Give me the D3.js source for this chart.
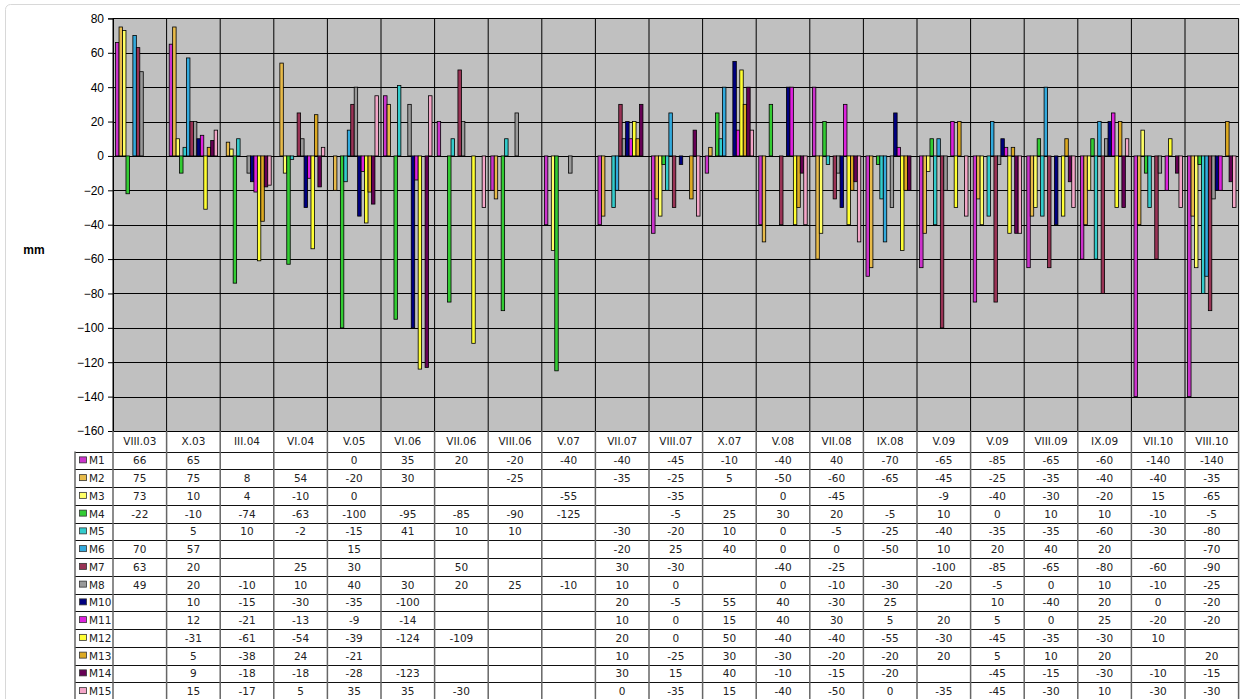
<!DOCTYPE html>
<html>
<head>
<meta charset="utf-8">
<script src="https://cdn.jsdelivr.net/npm/d3@7/dist/d3.min.js"></script>
<style>
  html, body { margin: 0; padding: 0; background: #fff; }
  svg { display: block; }
</style>
</head>
<body>
<svg id="chart" width="1240" height="699"></svg>
<script>
const categories = ["VIII.03","X.03","III.04","VI.04","V.05","VI.06","VII.06","VIII.06","V.07","VII.07","VIII.07","X.07","V.08","VII.08","IX.08","V.09","V.09","VIII.09","IX.09","VII.10","VIII.10"];
const seriesNames = ["M1","M2","M3","M4","M5","M6","M7","M8","M10","M11","M12","M13","M14","M15"];
const seriesColors = ["#CC33CC","#E8BB4A","#FFFF66","#33CC33","#33CCCC","#33AADD","#993355","#999999","#000080","#DD22DD","#FFFF33","#DDAA22","#660055","#F4A6C8"];
const _ = null;
const M1  = [66, 65, _, _, 0, 35, 20, -20, -40, -40, -45, -10, -40, 40, -70, -65, -85, -65, -60, -140, -140];
const M2  = [75, 75, 8, 54, -20, 30, _, -25, _, -35, -25, 5, -50, -60, -65, -45, -25, -35, -40, -40, -35];
const M3  = [73, 10, 4, -10, 0, _, _, _, -55, _, -35, _, 0, -45, _, -9, -40, -30, -20, 15, -65];
const M4  = [-22, -10, -74, -63, -100, -95, -85, -90, -125, _, -5, 25, 30, 20, -5, 10, 0, 10, 10, -10, -5];
const M5  = [_, 5, 10, -2, -15, 41, 10, 10, _, -30, -20, 10, 0, -5, -25, -40, -35, -35, -60, -30, -80];
const M6  = [70, 57, _, _, 15, _, _, _, _, -20, 25, 40, 0, 0, -50, 10, 20, 40, 20, _, -70];
const M7  = [63, 20, _, 25, 30, _, 50, _, _, 30, -30, _, -40, -25, _, -100, -85, -65, -80, -60, -90];
const M8  = [49, 20, -10, 10, 40, 30, 20, 25, -10, 10, 0, _, 0, -10, -30, -20, -5, 0, 10, -10, -25];
const M10 = [_, 10, -15, -30, -35, -100, _, _, _, 20, -5, 55, 40, -30, 25, _, 10, -40, 20, 0, -20];
const M11 = [_, 12, -21, -13, -9, -14, _, _, _, 10, 0, 15, 40, 30, 5, 20, 5, 0, 25, -20, -20];
const M12 = [_, -31, -61, -54, -39, -124, -109, _, _, 20, 0, 50, -40, -40, -55, -30, -45, -35, -30, 10, _];
const M13 = [_, 5, -38, 24, -21, _, _, _, _, 10, -25, 30, -30, -20, -20, 20, 5, 10, 20, _, 20];
const M14 = [_, 9, -18, -18, -28, -123, _, _, _, 30, 15, 40, -10, -15, -20, _, -45, -15, -30, -10, -15];
const M15 = [_, 15, -17, 5, 35, 35, -30, _, _, 0, -35, 15, -40, -50, 0, -35, -45, -30, 10, -30, -30];
const seriesValues = [M1, M2, M3, M4, M5, M6, M7, M8, M10, M11, M12, M13, M14, M15];
const yTicks = [80, 60, 40, 20, 0, -20, -40, -60, -80, -100, -120, -140, -160];
const yLabel = "mm";

const svg = d3.select("#chart");
const L = 113, R = 1238.6, T = 18.4, B = 431;
const headerH = 20.5, rowH = 17.75;

// outer frame
svg.append("rect").attr("x", 5.5).attr("y", 4.5).attr("width", 1240).attr("height", 700)
  .attr("rx", 5).attr("fill", "#fff").attr("stroke", "#d8d8d8");

const x0 = d3.scaleBand().domain(d3.range(categories.length)).range([L, R]).padding(0);
const x1 = d3.scaleBand().domain(d3.range(seriesNames.length)).range([0, x0.bandwidth()])
  .paddingInner(0).paddingOuter(0.75);
const y = d3.scaleLinear().domain([-160, 80]).range([B, T]);

// plot background
svg.append("rect").attr("x", L).attr("y", T).attr("width", R - L).attr("height", B - T).attr("fill", "#C0C0C0");

// horizontal gridlines
svg.append("g").selectAll("line").data(yTicks).join("line")
  .attr("x1", L).attr("x2", R).attr("y1", d => Math.round(y(d)) + 0.5).attr("y2", d => Math.round(y(d)) + 0.5)
  .attr("stroke", "#000").attr("stroke-width", 1);

// vertical category lines
svg.append("g").selectAll("line").data(d3.range(categories.length + 1)).join("line")
  .attr("x1", i => i < categories.length ? x0(i) : R).attr("x2", i => i < categories.length ? x0(i) : R)
  .attr("y1", T).attr("y2", B).attr("stroke", "#000").attr("stroke-width", 1);

// bars
const barData = [];
seriesValues.forEach((vals, s) => vals.forEach((v, c) => { if (v !== null) barData.push({ s, c, v }); }));
svg.append("g").selectAll("rect").data(barData).join("rect")
  .attr("x", d => x0(d.c) + x1(d.s))
  .attr("width", x1.bandwidth())
  .attr("y", d => y(Math.max(0, d.v)))
  .attr("height", d => Math.abs(y(d.v) - y(0)))
  .attr("fill", d => seriesColors[d.s])
  .attr("stroke", "#000").attr("stroke-width", 0.8);

// y axis
const yAxis = d3.axisLeft(y).tickValues(yTicks).tickSize(5).tickPadding(4).tickFormat(d3.format("d"));
const ga = svg.append("g").attr("transform", `translate(${L},0)`).call(yAxis);
ga.select(".domain").attr("stroke", "#000");
ga.selectAll("line").attr("stroke", "#000");
ga.selectAll("text").attr("font-family", "Liberation Sans, Arial, sans-serif").attr("font-size", 12).attr("fill", "#000");

svg.append("text").attr("x", 34).attr("y", 254).attr("text-anchor", "middle")
  .attr("font-family", "Liberation Sans, Arial, sans-serif").attr("font-size", 12).attr("font-weight", "bold")
  .text(yLabel);

// data table
const tf = "DejaVu Sans, Verdana, sans-serif";
const tableTop = B;
const rowsTop = tableTop + headerH;
const legendLeft = 75;
const tableG = svg.append("g");
// backgrounds
tableG.append("rect").attr("x", L).attr("y", tableTop).attr("width", R - L).attr("height", headerH).attr("fill", "#fff");
tableG.append("rect").attr("x", legendLeft).attr("y", rowsTop).attr("width", R - legendLeft)
  .attr("height", rowH * seriesNames.length).attr("fill", "#fff");

// header labels
tableG.selectAll("text.hdr").data(categories).join("text").attr("class", "hdr")
  .attr("x", (d, i) => x0(i) + x0.bandwidth() / 2).attr("y", tableTop + headerH / 2 + 4)
  .attr("text-anchor", "middle").attr("font-family", tf).attr("font-size", 10.5).attr("fill", "#222")
  .text(d => d);

// row values
seriesValues.forEach((vals, s) => {
  const cy = rowsTop + s * rowH + rowH / 2 + 4;
  tableG.append("g").selectAll("text").data(vals).join("text")
    .attr("x", (d, i) => x0(i) + x0.bandwidth() / 2).attr("y", cy)
    .attr("text-anchor", "middle").attr("font-family", tf).attr("font-size", 10.5).attr("fill", "#222")
    .text(d => d === null ? "" : d);
  tableG.append("rect").attr("x", legendLeft + 4.5).attr("y", rowsTop + s * rowH + rowH / 2 - 3.5)
    .attr("width", 7).attr("height", 6).attr("fill", seriesColors[s]).attr("stroke", "#333").attr("stroke-width", 0.8);
  tableG.append("text").attr("x", legendLeft + 14).attr("y", cy)
    .attr("font-family", tf).attr("font-size", 10.5).attr("fill", "#222").text(seriesNames[s]);
});

// table grid lines
const hLines = d3.range(seriesNames.length + 1).map(i => rowsTop + i * rowH);
tableG.append("line").attr("x1", L).attr("x2", R).attr("y1", tableTop + 0.5).attr("y2", tableTop + 0.5).attr("stroke", "#000");
tableG.selectAll("line.h").data(hLines).join("line").attr("class", "h")
  .attr("x1", legendLeft).attr("x2", R).attr("y1", d => Math.round(d) + 0.5).attr("y2", d => Math.round(d) + 0.5)
  .attr("stroke", "#111").attr("stroke-width", 1);
tableG.selectAll("line.v").data(d3.range(categories.length + 1)).join("line").attr("class", "v")
  .attr("x1", i => i < categories.length ? x0(i) : R).attr("x2", i => i < categories.length ? x0(i) : R)
  .attr("y1", tableTop).attr("y2", rowsTop + rowH * seriesNames.length)
  .attr("stroke", "#666").attr("stroke-width", 1.5);
tableG.append("line").attr("x1", legendLeft).attr("x2", legendLeft).attr("y1", rowsTop).attr("y2", rowsTop + rowH * seriesNames.length)
  .attr("stroke", "#666").attr("stroke-width", 1.5);
</script>
</body>
</html>
